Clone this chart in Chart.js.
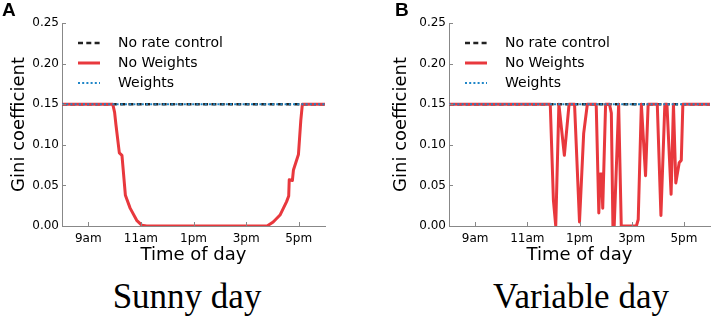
<!DOCTYPE html>
<html>
<head>
<meta charset="utf-8">
<script src="https://cdn.jsdelivr.net/npm/chart.js@4.4.0/dist/chart.umd.min.js"></script>
<style>
  body { margin: 0; background: #fff; }
  #wrap { position: relative; width: 713px; height: 318px; overflow: hidden; }
  .panel { position: absolute; top: 0; }
  .letter { position: absolute; top: -1px; font: bold 19px "Liberation Sans", Arial, sans-serif; color: #000; }
  .subtitle { position: absolute; width: 300px; text-align: center; font: 35px/35px "Liberation Serif", "Times New Roman", serif; color: #000; top: 279px; }
</style>
</head>
<body>
<div id="wrap">
  <canvas id="SunnyChart" class="panel" style="left:0px" width="360" height="270"></canvas>
  <canvas id="VariableChart" class="panel" style="left:360px" width="353" height="270"></canvas>
  <div class="letter" style="left:2px">A</div>
  <div class="letter" style="left:395px">B</div>
  <div class="subtitle" style="left:37px">Sunny day</div>
  <div class="subtitle" style="left:431px">Variable day</div>
</div>
<script>
// hours since midnight on the x axis
const tickHours = [9, 11, 13, 15, 17];
const tickLabels = ['9am', '11am', '1pm', '3pm', '5pm'];

// flat reference lines (No rate control / Weights)
const flatHours = [8, 18];
const noRateControl = [0.15, 0.15];
const weights = [0.15, 0.15];

// No Weights, sunny day
const sunnyHours = [8, 9.93, 10.0, 10.05, 10.18, 10.28, 10.41, 10.59, 10.84, 11.03, 11.22,
  15.8, 16.03, 16.29, 16.54, 16.62, 16.64, 16.76, 16.8, 16.99, 17.08, 17.14, 18];
const sunnyNoWeights = [0.15, 0.15, 0.14, 0.125, 0.09, 0.087, 0.038, 0.022, 0.007, 0.001, 0,
  0, 0.005, 0.0135, 0.03, 0.037, 0.057, 0.056, 0.069, 0.088, 0.13, 0.15, 0.15];

// No Weights, variable day
const variableHours = [8, 11.88, 12.0, 12.09, 12.21, 12.42, 12.6, 12.81, 13.0, 13.16, 13.3,
  13.64, 13.74, 13.79, 13.85, 13.89, 14.0, 14.15, 14.22, 14.28, 14.33, 14.5, 14.6,
  15.18, 15.25, 15.37, 15.53, 15.63, 15.98, 16.12, 16.27, 16.35, 16.51, 16.6,
  16.69, 16.82, 16.9, 16.96, 18];
const variableNoWeights = [0.15, 0.15, 0.032, 0, 0.15, 0.087, 0.15, 0.15, 0.005, 0.114, 0.15,
  0.15, 0.016, 0.064, 0.064, 0.022, 0.15, 0.15, 0.139, 0, 0, 0.15, 0,
  0, 0.008, 0.15, 0.062, 0.15, 0.15, 0.013, 0.15, 0.15, 0.039, 0.15,
  0.053, 0.078, 0.081, 0.15, 0.15];

const toPoints = (xs, ys) => xs.map((x, i) => ({ x: x, y: ys[i] }));

// legend drawn inside the plot, top-left, with line samples
const insideLegend = {
  id: 'insideLegend',
  afterDatasetsDraw(chart) {
    const { ctx, chartArea } = chart;
    ctx.save();
    chart.data.datasets.forEach((ds, i) => {
      const y = chartArea.top + 20 + 20 * i;
      ctx.beginPath();
      ctx.setLineDash(ds.borderDash || []);
      ctx.lineWidth = ds.borderWidth;
      ctx.strokeStyle = ds.borderColor;
      ctx.moveTo(chartArea.left + 16, y);
      ctx.lineTo(chartArea.left + 38, y);
      ctx.stroke();
      ctx.setLineDash([]);
      ctx.fillStyle = '#000';
      ctx.font = '14px "DejaVu Sans"';
      ctx.textBaseline = 'middle';
      ctx.fillText(ds.label, chartArea.left + 56, y);
    });
    ctx.restore();
  }
};

// small inward tick marks like matplotlib
const inwardTicks = {
  id: 'inwardTicks',
  afterDraw(chart) {
    const { ctx, chartArea, scales } = chart;
    ctx.save();
    ctx.strokeStyle = '#888';
    ctx.lineWidth = 1;
    ctx.beginPath();
    scales.x.ticks.forEach(t => {
      const px = Math.round(scales.x.getPixelForValue(t.value)) + 0.5;
      ctx.moveTo(px, chartArea.bottom);
      ctx.lineTo(px, chartArea.bottom - 4);
    });
    scales.y.ticks.forEach(t => {
      const py = Math.round(scales.y.getPixelForValue(t.value)) + 0.5;
      ctx.moveTo(chartArea.left, py);
      ctx.lineTo(chartArea.left + 4, py);
    });
    ctx.stroke();
    ctx.restore();
  }
};

function makeChart(id, hours, noWeights, padLeft, padRight, titlePad) {
  const chartData = {
    datasets: [
      {
        label: 'No rate control',
        data: toPoints(flatHours, noRateControl),
        borderColor: '#222222',
        borderWidth: 2.5,
        borderDash: [5, 3.3],
        order: 2,
      },
      {
        label: 'No Weights',
        data: toPoints(hours, noWeights),
        borderColor: '#e8383d',
        borderWidth: 3,
        borderJoinStyle: 'round',
        order: 1,
      },
      {
        label: 'Weights',
        data: toPoints(flatHours, weights),
        borderColor: '#1f86c8',
        borderWidth: 2,
        borderDash: [2, 2.2],
        order: 0,
      },
    ],
  };

  const chartConfig = {
    type: 'line',
    data: chartData,
    options: {
      responsive: false,
      animation: false,
      layout: { padding: { left: padLeft, right: padRight, top: 23, bottom: 0 } },
      elements: { point: { radius: 0 }, line: { tension: 0 } },
      plugins: {
        legend: { display: false },
        tooltip: { enabled: false },
      },
      scales: {
        x: {
          type: 'linear',
          min: 8,
          max: 18,
          afterBuildTicks: scale => { scale.ticks = tickHours.map(v => ({ value: v })); },
          afterFit: scale => { scale.height = 44; },
          grid: { display: false, drawTicks: false },
          border: { display: true, color: '#888', width: 1 },
          ticks: {
            padding: 6,
            maxRotation: 0,
            color: '#000',
            font: { family: 'DejaVu Sans', size: 12 },
            callback: (value, index) => tickLabels[index],
          },
          title: {
            display: true,
            text: 'Time of day',
            color: '#000',
            font: { family: 'DejaVu Sans', size: 18 },
            padding: { top: 0, bottom: 4 },
          },
        },
        y: {
          min: 0,
          max: 0.25,
          afterFit: scale => { scale.width = 62; },
          grid: { display: false, drawTicks: false },
          border: { display: true, color: '#888', width: 1 },
          ticks: {
            stepSize: 0.05,
            padding: 3,
            color: '#000',
            font: { family: 'DejaVu Sans', size: 12 },
            callback: v => v.toFixed(2),
          },
          title: {
            display: true,
            text: 'Gini coefficient',
            color: '#000',
            font: { family: 'DejaVu Sans', size: 18 },
            padding: { top: titlePad, bottom: 0 },
          },
        },
      },
    },
    plugins: [insideLegend, inwardTicks],
  };

  const ctx = document.getElementById(id).getContext('2d');
  return new Chart(ctx, chartConfig);
}

makeChart('SunnyChart', sunnyHours, sunnyNoWeights, 0, 35, 9);
makeChart('VariableChart', variableHours, variableNoWeights, 27, 3, 4);
</script>
</body>
</html>
